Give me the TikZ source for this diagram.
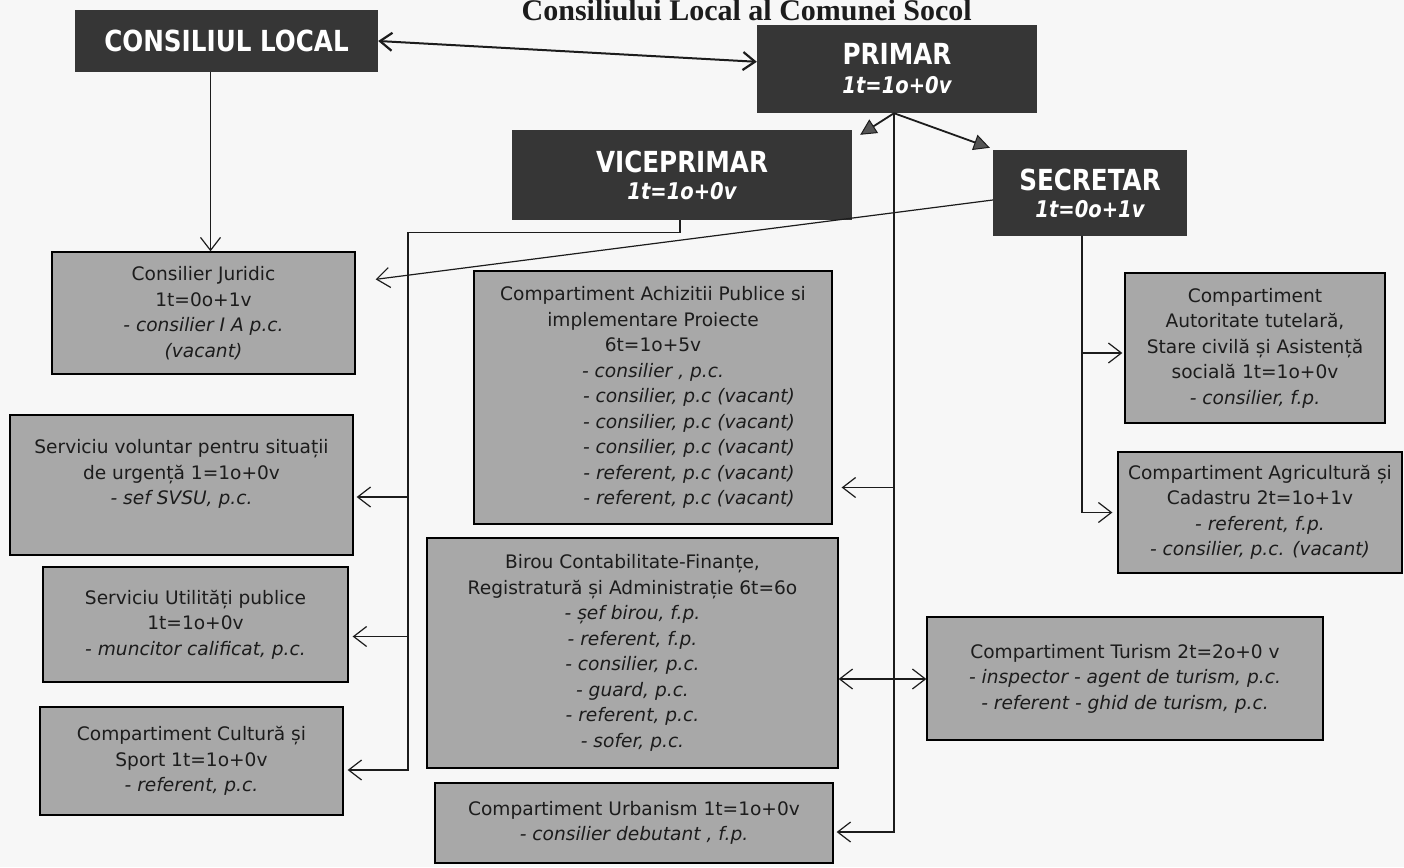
\documentclass[tikz,border=0pt]{standalone}
\usepackage{fontspec}
\setmainfont{DejaVu Sans}
\newfontfamily\headfont[FakeStretch=0.85]{DejaVu Sans}
\newfontfamily\titlefont{Liberation Serif}
\usetikzlibrary{arrows.meta,calc}
\definecolor{paper}{HTML}{F7F7F7}
\definecolor{boxdark}{HTML}{363636}
\definecolor{greyfill}{HTML}{A8A8A8}
\definecolor{ink}{HTML}{1C1C1C}
\definecolor{tipfill}{HTML}{555555}
\begin{document}
\begin{tikzpicture}[x=1pt,y=-1pt,
  headbox/.style={fill=boxdark, text=white, align=center, inner sep=0pt,
    font=\headfont\fontsize{29}{30}\selectfont\bfseries},
  greybox/.style={fill=greyfill, draw=black, line width=1.3pt, text=ink,
    align=center, inner sep=0pt, font=\fontsize{18.6}{25.5}\selectfont},
  conn/.style={draw=ink, line width=1.2pt},
  barb/.style={-{Straight Barb[length=13pt,width=20pt,line width=1.2pt]}},
  dbarb/.style={{Straight Barb[length=13pt,width=20pt,line width=1.2pt]}-{Straight Barb[length=13pt,width=20pt,line width=1.2pt]}},
  thickdbarb/.style={line width=2pt,{Straight Barb[length=12pt,width=18pt,line width=2.2pt]}-{Straight Barb[length=12pt,width=18pt,line width=2.2pt]}},
  tri/.style={line width=1.8pt,-{Triangle[length=16pt,width=16pt,fill=tipfill,line width=1pt]}}
]
\useasboundingbox (0,0) rectangle (1404,867);
\clip (0,0) rectangle (1404,867);
\fill[paper] (0,0) rectangle (1404,867);

% title
\node[anchor=base east, inner sep=0pt, text=ink,
  font=\titlefont\fontsize{30}{30}\selectfont\bfseries] (title) at (972,21)
  {Consiliului Local al Comunei Socol};

% leading boxes
\node[headbox, minimum width=303, minimum height=62] (cl) at (226.5,41) {CONSILIUL LOCAL};
\node[headbox, minimum width=280, minimum height=88] (primar) at (897,69)
  {PRIMAR\\[-1pt]{\fontsize{23}{26}\selectfont\itshape 1t=1o+0v}};
\node[headbox, minimum width=340, minimum height=90] (vice) at (682,175)
  {VICEPRIMAR\\[-3pt]{\fontsize{23}{26}\selectfont\itshape 1t=1o+0v}};
\node[headbox, minimum width=194, minimum height=86] (secretar) at (1090,193)
  {SECRETAR\\[-3pt]{\fontsize{23}{26}\selectfont\itshape 1t=0o+1v}};

% left column
\node[greybox, minimum width=303, minimum height=122] (juridic) at (203.5,313)
  {Consilier Juridic\\1t=0o+1v\\\textit{- consilier I A p.c.}\\\textit{(vacant)}};
\node[greybox, minimum width=343, minimum height=140] (voluntar) at (181.5,485)
  {Serviciu voluntar pentru situații\\de urgență 1=1o+0v\\\textit{- sef SVSU, p.c.}\\\mbox{}};
\node[greybox, minimum width=305, minimum height=115] (utilitati) at (195.5,624.5)
  {Serviciu Utilități publice\\1t=1o+0v\\\textit{- muncitor calificat, p.c.}};
\node[greybox, minimum width=303, minimum height=108] (cultura) at (191.5,761)
  {Compartiment Cultură și\\Sport 1t=1o+0v\\\textit{- referent, p.c.}};

% middle column
\node[greybox, minimum width=358, minimum height=253] (achizitii) at (653,397.5)
  {Compartiment Achizitii Publice si\\implementare Proiecte\\6t=1o+5v\\
   \textit{- consilier , p.c.}\\
   \hspace*{72pt}\textit{- consilier, p.c (vacant)}\\
   \hspace*{72pt}\textit{- consilier, p.c (vacant)}\\
   \hspace*{72pt}\textit{- consilier, p.c (vacant)}\\
   \hspace*{72pt}\textit{- referent, p.c (vacant)}\\
   \hspace*{72pt}\textit{- referent, p.c (vacant)}};
\node[greybox, minimum width=411, minimum height=230] (birou) at (632.5,653)
  {Birou Contabilitate-Finanțe,\\Registratură și Administrație 6t=6o\\
   \textit{- șef birou, f.p.}\\\textit{- referent, f.p.}\\\textit{- consilier, p.c.}\\
   \textit{- guard, p.c.}\\\textit{- referent, p.c.}\\\textit{- sofer, p.c.}};
\node[greybox, minimum width=398, minimum height=80] (urbanism) at (634,823)
  {Compartiment Urbanism 1t=1o+0v\\\textit{- consilier debutant , f.p.}};

% right column
\node[greybox, minimum width=260, minimum height=150] (autoritate) at (1255,348)
  {Compartiment\\Autoritate tutelară,\\Stare civilă și Asistență\\socială 1t=1o+0v\\\textit{- consilier, f.p.}};
\node[greybox, minimum width=284, minimum height=121] (agricultura) at (1260,512.5)
  {Compartiment Agricultură și\\Cadastru 2t=1o+1v\\\textit{- referent, f.p.}\\\textit{- consilier, p.c. (vacant)}};
\node[greybox, minimum width=396, minimum height=123] (turism) at (1125,678.5)
  {Compartiment Turism 2t=2o+0 v\\\textit{- inspector - agent de turism, p.c.}\\\textit{- referent - ghid de turism, p.c.}};

% connectors
\draw[thickdbarb, draw=ink] (cl.east) -- ($(primar.north west)+(0,37)$);

\coordinate (clout) at ($(cl.south)+(-16,0)$);
\draw[conn,barb] (clout) -- (clout |- juridic.north);

\coordinate (pout) at ($(primar.south)+(-3,0)$);
\draw[tri, draw=ink] (pout) -- ($(vice.north east)+(8,5)$);
\draw[tri, draw=ink] (pout) -- ($(secretar.north west)+(-3,-2)$);

\coordinate (achIn) at ($(achizitii.east)+(9,90)$);
\coordinate (urbIn) at ($(urbanism.east)+(3,9)$);
\coordinate (birIn) at ($(birou.east)+(0,26)$);
\draw[conn,barb] (pout) -- (pout |- urbIn) -- (urbIn);
\draw[conn,barb] (pout |- achIn) -- (achIn);
\draw[conn,dbarb] (birIn) -- (birIn -| turism.west);

\coordinate (vout) at ($(vice.south)+(-2,0)$);
\coordinate (vbend) at ($(vout)+(0,12)$);
\coordinate (vcorner) at ($(vbend)+(-272,0)$);
\coordinate (volIn) at ($(voluntar.east)+(3,12)$);
\coordinate (utiIn) at ($(utilitati.east)+(4,12)$);
\coordinate (culIn) at ($(cultura.east)+(4,9)$);
\draw[conn,barb] (vout) -- (vbend) -- (vcorner) -- (vcorner |- culIn) -- (culIn);
\draw[conn,barb] (vcorner |- volIn) -- (volIn);
\draw[conn,barb] (vcorner |- utiIn) -- (utiIn);

\draw[conn,barb] ($(secretar.west)+(0,7)$) -- ($(juridic.north east)+(20,28)$);

\coordinate (sout) at ($(secretar.south)+(-8,0)$);
\coordinate (autIn) at ($(autoritate.west)+(-2,5)$);
\coordinate (agrIn) at ($(agricultura.west)+(-5,0)$);
\draw[conn,barb] (sout) -- (sout |- agrIn) -- (agrIn);
\draw[conn,barb] (sout |- autIn) -- (autIn);
\end{tikzpicture}
\end{document}
